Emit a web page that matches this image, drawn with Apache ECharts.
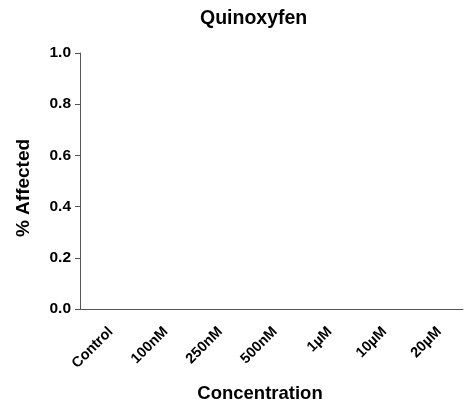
<!DOCTYPE html>
<html>
<head>
<meta charset="utf-8">
<script src="https://cdn.jsdelivr.net/npm/echarts@6/dist/echarts.min.js"></script>
<style>html,body{margin:0;padding:0;background:#fff}#c{width:467px;height:409px}</style>
</head>
<body>
<div id="c"></div>
<script>
var categories = ["Control", "100nM", "250nM", "500nM", "1\u00b5M", "10\u00b5M", "20\u00b5M"];
var affected = [0, 0, 0, 0, 0, 0, 0];
var yTicks = [0.0, 0.2, 0.4, 0.6, 0.8, 1.0];

var FONT = "'Liberation Sans', Arial, sans-serif";
var chart = echarts.init(document.getElementById('c'), null, {renderer: 'canvas'});
chart.setOption({
  animation: false,
  backgroundColor: '#fff',
  title: {
    text: 'Quinoxyfen', left: 195, top: 4,
    textStyle: {fontFamily: FONT, fontWeight: 'bold', fontSize: 19.5, color: '#000'}
  },
  grid: {left: 80, right: 4, top: 53, bottom: 100, containLabel: false},
  xAxis: {
    type: 'category', data: categories,
    name: 'Concentration', nameLocation: 'middle', nameGap: 75,
    nameTextStyle: {fontFamily: FONT, fontWeight: 'bold', fontSize: 18.5, color: '#000', padding: [0, 0, 0, -23]},
    axisLine: {lineStyle: {color: '#555', width: 1}},
    axisTick: {alignWithLabel: true, length: 6, lineStyle: {color: '#555'}},
    axisLabel: {rotate: 45, margin: 24, padding: [0, -5, 0, 0], fontFamily: FONT, fontWeight: 'bold', fontSize: 14.5, color: '#000'}
  },
  yAxis: {
    type: 'value', min: yTicks[0], max: yTicks[yTicks.length - 1], interval: 0.2,
    name: '% Affected', nameLocation: 'middle', nameGap: 47,
    nameTextStyle: {fontFamily: FONT, fontWeight: 'bold', fontSize: 19, color: '#000', padding: [0, 0, 0, -14]},
    axisLine: {show: true, lineStyle: {color: '#555', width: 1}},
    axisTick: {show: true, length: 5, lineStyle: {color: '#555'}},
    splitLine: {show: false},
    axisLabel: {margin: 9, fontFamily: FONT, fontWeight: 'bold', fontSize: 15.5, color: '#000',
      formatter: function (v) { return v.toFixed(1); }}
  },
  series: [{
    type: 'bar', data: affected, barWidth: '60%',
    itemStyle: {color: '#fff', borderWidth: 0}
  }]
});
</script>
</body>
</html>
